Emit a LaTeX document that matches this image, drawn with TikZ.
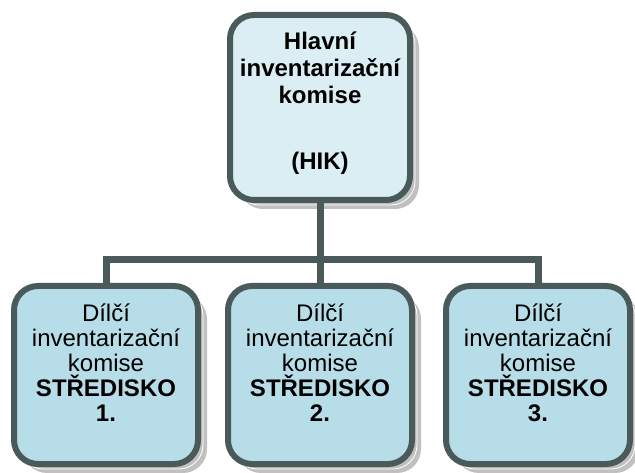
\documentclass[tikz,border=0pt]{standalone}
\usepackage{fontspec}
\setmainfont{Liberation Sans}
\usetikzlibrary{shadows}

\definecolor{okraj}{RGB}{74,89,90}
\definecolor{svetla}{RGB}{218,238,243}
\definecolor{tmavsi}{RGB}{183,222,232}
\definecolor{stin}{RGB}{192,192,192}

\tikzset{
  komise/.style={draw=okraj, line width=6pt, rounded corners=24pt,
    minimum width=184pt, minimum height=178pt,
    drop shadow={shadow xshift=9pt, shadow yshift=-9pt, fill=stin, opacity=1},
    drop shadow={shadow xshift=5pt, shadow yshift=-5pt, fill=stin, draw=white, line width=0.8pt, opacity=1}},
  popis/.style={align=center, font=\fontsize{24}{25}\selectfont},
  spoj/.style={draw=okraj, line width=7pt}
}

\begin{document}
\begin{tikzpicture}[x=1pt,y=-1pt]
  \useasboundingbox (0,0) rectangle (635,473);

  \node[komise, fill=svetla, minimum width=180pt, minimum height=185pt] (hik) at (320,107.5) {};
  \node[komise, fill=tmavsi] (s1) at (106,375) {};
  \node[komise, fill=tmavsi] (s2) at (320,375) {};
  \node[komise, fill=tmavsi] (s3) at (538,375) {};

  \node[popis, font=\bfseries\fontsize{24}{27}\selectfont] (t0) at (320,103)
    {Hlavní\\inventarizační\\komise\\[39pt](HIK)};
  \node[popis] (t1) at (106,363) {Dílčí\\inventarizační\\komise\\\textbf{STŘEDISKO}\\\textbf{1.}};
  \node[popis] (t2) at (320,363) {Dílčí\\inventarizační\\komise\\\textbf{STŘEDISKO}\\\textbf{2.}};
  \node[popis] (t3) at (538,363) {Dílčí\\inventarizační\\komise\\\textbf{STŘEDISKO}\\\textbf{3.}};

  \coordinate (sber) at (320,260);
  \draw[spoj] (hik.south) -- (s2.north);
  \draw[spoj] (s1.north) |- (sber) -| (s3.north);
\end{tikzpicture}
\end{document}
